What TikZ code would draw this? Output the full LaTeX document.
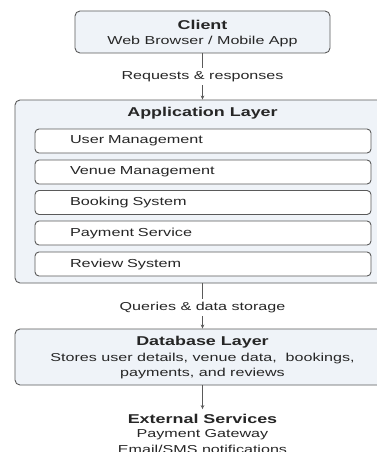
\documentclass[tikz,border=0pt]{standalone}
\usepackage{fontspec}
\setmainfont{Liberation Sans}[FakeStretch=1.4]
\usetikzlibrary{arrows.meta}
\definecolor{boxfill}{HTML}{EFF3F8}
\definecolor{boxline}{HTML}{5A5A5A}
\definecolor{txt}{HTML}{262626}
\tikzset{
  layerbox/.style={draw=boxline, fill=boxfill, line width=0.9pt, rounded corners=5pt, inner sep=0pt},
  inbox/.style={draw=boxline, fill=white, line width=0.9pt, rounded corners=4pt, minimum width=336pt, minimum height=24pt, text width=266pt, inner xsep=35pt, inner ysep=0pt, align=left, font=\fontsize{11.6}{13}\selectfont, text=txt},
  ttl/.style={font=\bfseries\fontsize{12.8}{15}\selectfont, text=txt, inner sep=0pt},
  sub/.style={font=\fontsize{11.5}{15}\selectfont, text=txt, inner sep=0pt},
  flow/.style={draw=boxline, line width=0.9pt, -{Stealth[length=4pt,width=3.6pt]}},
  flowlbl/.style={fill=white, font=\fontsize{11.5}{14}\selectfont, text=txt, inner xsep=2pt, inner ysep=3pt}
}
\begin{document}
\begin{tikzpicture}[x=1pt,y=-1pt]
\useasboundingbox (0,0) rectangle (377,452);
\clip (0,0) rectangle (377,452);
\fill[white] (0,0) rectangle (377,452);

% Client
\node[layerbox, minimum width=255pt, minimum height=42pt] (client) at (202.5,32) {};
\node[ttl] (clientt) at (202.5,25) {Client};
\node[sub] (clients) at (202.5,41.5) {Web Browser / Mobile App};

% Application layer
\node[layerbox, minimum width=375pt, minimum height=183pt] (app) at (202.5,191.5) {};
\node[ttl] (appt) at (202.5,113.5) {Application Layer};
\node[inbox] (um) at (203,141) {User Management};
\node[inbox] (vm) at (203,172) {Venue Management};
\node[inbox] (bs) at (203,202.5) {Booking System};
\node[inbox] (ps) at (203,233) {Payment Service};
\node[inbox] (rs) at (203,264) {Review System};

% Database layer
\node[layerbox, minimum width=375pt, minimum height=56pt] (db) at (202.5,357) {};
\node[ttl] (dbt) at (202.5,342) {Database Layer};
\node[sub] (dbs1) at (202.5,358.5) {Stores user details, venue data,\ \ bookings,};
\node[sub] (dbs2) at (202.5,373.5) {payments, and reviews};

% External services
\node[ttl, inner ysep=5pt] (ext) at (202.5,419) {External Services};
\node[sub] (ext1) at (202.5,434.5) {Payment Gateway};
\node[sub] (ext2) at (202.5,449) {Email/SMS notifications};

% Connectors
\draw[flow] (client.south) -- node[flowlbl, pos=0.5] {Requests \& responses} (app.north);
\draw[flow] (app.south) -- node[flowlbl, pos=0.54] {Queries \& data storage} (db.north);
\draw[flow] (db.south) -- (ext.north);
\end{tikzpicture}
\end{document}
